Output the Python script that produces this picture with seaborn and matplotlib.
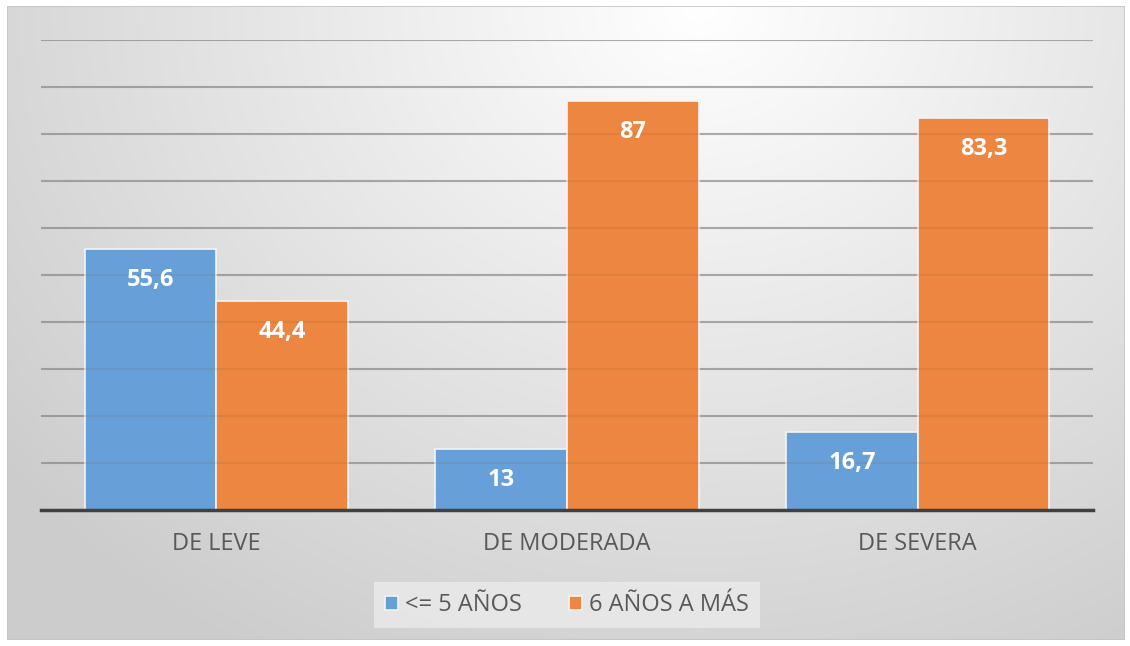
import numpy as np
import pandas as pd
import seaborn as sns
import matplotlib.pyplot as plt

categories = ["DE LEVE", "DE MODERADA", "DE SEVERA"]
series = ["<= 5 AÑOS", "6 AÑOS A MÁS"]
menor_5 = [55.6, 13, 16.7]
mayor_6 = [44.4, 87, 83.3]
etiquetas = [["55,6", "13", "16,7"], ["44,4", "87", "83,3"]]

df = pd.DataFrame({
    "categoria": categories * 2,
    "grupo": [series[0]] * 3 + [series[1]] * 3,
    "valor": menor_5 + mayor_6,
})

sns.set_theme(style="white")
plt.rcParams["font.family"] = ["Open Sans", "DejaVu Sans"]

W, H = 1130, 646
fig = plt.figure(figsize=(W / 100, H / 100), dpi=100)
fig.patch.set_facecolor("white")

# gradient background of the chart frame
bg = fig.add_axes([7 / W, 6 / H, 1118 / W, 634 / H])
yy, xx = np.mgrid[0:1:300j, 0:1:500j]
d = np.sqrt(((xx - 0.62) / 0.8) ** 2 + ((yy - 0.0) / 1.2) ** 2)
shade = np.clip(1.0 - 0.2 * d, 0.8, 1.0)
bg.imshow(np.dstack([shade] * 3), aspect="auto", extent=[0, 1, 0, 1])
bg.set_axis_off()
bg.add_patch(plt.Rectangle((0, 0), 1, 1, transform=bg.transAxes, fill=False,
                           edgecolor="#c4c4c4", linewidth=1.2))

ax = fig.add_axes([41 / W, (H - 510) / H, 1052 / W, 470 / H])
ax.patch.set_alpha(0)
for yv in np.arange(10, 101, 10):
    ax.axhline(yv, color="#8a8a8a", linewidth=1.5, alpha=0.6, zorder=1)
sns.barplot(data=df, x="categoria", y="valor", hue="grupo",
            palette=["#67a0d8", "#ed8641"], width=0.75, saturation=1,
            edgecolor="#f4f4f4", linewidth=1.2, ax=ax, zorder=2)
for yv in np.arange(10, 101, 10):
    ax.axhline(yv, color="#7a5030", linewidth=1.5, alpha=0.12, zorder=3)

ax.set_ylim(0, 100)
ax.set_yticks([])
ax.tick_params(left=False, bottom=False)
for sp in ["top", "right", "left"]:
    ax.spines[sp].set_visible(False)
ax.spines["bottom"].set_color("#404040")
ax.spines["bottom"].set_linewidth(2.5)
ax.spines["bottom"].set_zorder(4)
ax.set_xlabel("")
ax.set_ylabel("")
ax.tick_params(axis="x", labelsize=17, labelcolor="#595959", pad=10)

for container, labs in zip(ax.containers, etiquetas):
    for bar, lab in zip(container, labs):
        ax.annotate(lab, (bar.get_x() + bar.get_width() / 2, bar.get_height()),
                    xytext=(0, -31), textcoords="offset pixels",
                    ha="center", va="center", color="white", fontsize=17,
                    fontweight="bold", zorder=5)

leg = ax.legend(loc="center", bbox_to_anchor=(567 / W, (H - 605) / H),
                bbox_transform=fig.transFigure, ncol=2, frameon=True,
                fontsize=17, handlelength=0.55, handleheight=0.55,
                handletextpad=0.3, columnspacing=2.0, borderpad=0.45,
                facecolor="#ebebeb", edgecolor="none", fancybox=False)
leg.get_frame().set_alpha(0.8)
for t in leg.get_texts():
    t.set_color("#595959")

fig.savefig("out.png", dpi=100)
